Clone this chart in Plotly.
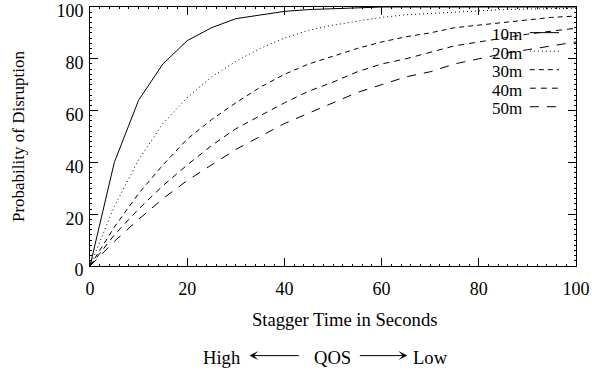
import plotly.graph_objects as go

stagger = [0, 5, 10, 15, 20, 25, 30, 35, 40, 45, 50, 55, 60, 65, 70, 75, 80, 85, 90, 95, 100]
p10 = [0, 40, 64, 78, 87, 92, 95.5, 97, 98.3, 99, 99.4, 99.7, 100, 100, 100, 100, 100, 100, 100, 100, 100]
p20 = [0, 23, 41, 55, 65, 73, 79, 84, 88, 91, 93, 94.5, 96, 97, 97.5, 98, 98.5, 99, 99.2, 99.4, 99.5]
p30 = [0, 15, 28, 39, 49, 56.5, 63, 69, 74, 78, 81, 84, 86.5, 88.5, 90, 92, 93, 94, 95, 96, 96.5]
p40 = [0, 12, 22, 31, 39, 46.5, 53, 58, 63, 67.5, 71, 75, 78, 80, 82.5, 85, 86.5, 88, 89.5, 90.7, 91.8]
p50 = [0, 9.5, 18, 26, 33, 39, 45, 50, 55, 59, 63, 67, 70, 73, 75, 78, 80, 82, 83.5, 85, 86.5]
names = ["10m", "20m", "30m", "40m", "50m"]
series = [p10, p20, p30, p40, p50]
dashes = ["solid", "1px,3px", "5px,4px", "6px,5px", "9px,8px"]

FONT = "Liberation Serif, Times New Roman, serif"

fig = go.Figure()
for name, ys, d in zip(names, series, dashes):
    fig.add_trace(go.Scatter(x=stagger, y=ys, mode="lines", name=name,
                             line=dict(color="black", width=1, dash=d),
                             showlegend=False))

# manual legend (text on the left, line sample on the right)
leg_y = [0.893, 0.8215, 0.750, 0.6785, 0.607]
for name, d, yy in zip(names, dashes, leg_y):
    fig.add_annotation(x=0.893, y=yy, xref="paper", yref="paper", text=name,
                       showarrow=False, xanchor="right", yanchor="middle",
                       font=dict(family=FONT, size=17, color="black"))
    fig.add_shape(type="line", xref="paper", yref="paper",
                  x0=0.905, x1=0.965, y0=yy + 0.008, y1=yy + 0.008,
                  line=dict(color="black", width=1, dash=d))

axis_common = dict(showline=True, linecolor="black", linewidth=1, mirror="ticks",
                   ticks="inside", ticklen=8, tickcolor="black", tickwidth=1,
                   showgrid=False, zeroline=False, automargin=False,
                   ticklabeloverflow="allow",
                   tickfont=dict(family=FONT, size=18, color="black"),
                   minor=dict(ticks="inside", ticklen=2, dtick=2, tickcolor="black", showgrid=False))

fig.update_xaxes(range=[0, 100], dtick=20, tick0=0, ticklabelstandoff=6, **axis_common)
fig.update_yaxes(range=[0, 100], dtick=20, tick0=0, ticklabelstandoff=2,
                 ticklabelshift=4, **axis_common)

fig.add_annotation(x=0.523, y=-0.207, xref="paper", yref="paper",
                   text="Stagger Time in Seconds", showarrow=False,
                   xanchor="center", yanchor="middle",
                   font=dict(family=FONT, size=18.6, color="black"))
fig.add_annotation(x=-0.147, y=0.5, xref="paper", yref="paper",
                   text="Probability of Disruption", showarrow=False, textangle=-90,
                   xanchor="center", yanchor="middle",
                   font=dict(family=FONT, size=17, color="black"))

# QOS annotation row
qy = -0.352
for txt, xx in [("High", 0.271), ("QOS", 0.498), ("Low", 0.700)]:
    fig.add_annotation(x=xx, y=qy, xref="paper", yref="paper", text=txt,
                       showarrow=False, xanchor="center", yanchor="middle",
                       font=dict(family=FONT, size=18.6, color="black"))
fig.add_annotation(x=0.328, y=qy + 0.006, ax=51, ay=0,
                   xref="paper", yref="paper", axref="pixel", ayref="pixel",
                   text="", showarrow=True, arrowhead=3, arrowsize=1.5,
                   arrowwidth=1, arrowcolor="black")
fig.add_annotation(x=0.653, y=qy + 0.006, ax=-49, ay=0,
                   xref="paper", yref="paper", axref="pixel", ayref="pixel",
                   text="", showarrow=True, arrowhead=3, arrowsize=1.5,
                   arrowwidth=1, arrowcolor="black")

fig.update_layout(width=592, height=372,
                  margin=dict(l=89.5, r=16, t=7, b=106),
                  plot_bgcolor="white", paper_bgcolor="white",
                  font=dict(family=FONT, color="black"))

fig.write_html("out.html", config={"displayModeBar": False},
               post_script="document.body.style.margin='0';document.body.style.overflow='hidden';")
